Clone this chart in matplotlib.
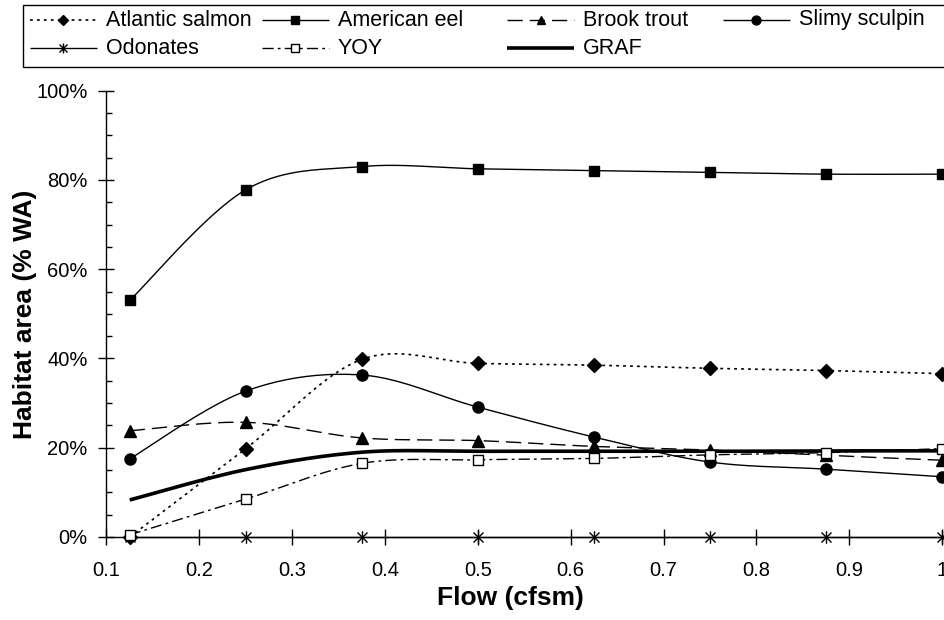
import numpy as np
import matplotlib
matplotlib.use("Agg")
import matplotlib.pyplot as plt
from matplotlib.lines import Line2D
from matplotlib.patches import Rectangle
from matplotlib.path import Path
from matplotlib.ticker import MultipleLocator, PercentFormatter, FuncFormatter

plt.rcParams['font.family'] = ['Liberation Sans', 'DejaVu Sans']
plt.rcParams['lines.scale_dashes'] = False

# Habitat area (% of wetted area) at each flow
flow = [0.125, 0.25, 0.375, 0.5, 0.625, 0.75, 0.875, 1.0]
atlantic_salmon = [0.0, 19.8, 39.8, 38.9, 38.5, 37.8, 37.3, 36.6]
american_eel = [53.0, 77.8, 83.0, 82.5, 82.1, 81.7, 81.3, 81.3]
brook_trout = [23.8, 25.7, 22.2, 21.6, 20.3, 19.5, 18.3, 17.2]
slimy_sculpin = [17.5, 32.7, 36.3, 29.1, 22.4, 16.8, 15.2, 13.5]
odonates = [0.0, 0.0, 0.0, 0.0, 0.0, 0.0, 0.0, 0.0]
yoy = [0.5, 8.5, 16.5, 17.3, 17.6, 18.4, 18.9, 19.8]
graf = [8.3, 15.1, 19.0, 19.2, 19.2, 19.2, 19.3, 19.3]

names = ["Atlantic salmon", "American eel", "Brook trout", "Slimy sculpin",
         "Odonates", "YOY", "GRAF"]

# asterisk: vertical bar plus an x
star = Path([(0, -1), (0, 1), (-0.8, -0.8), (0.8, 0.8), (-0.8, 0.8), (0.8, -0.8)],
            [Path.MOVETO, Path.LINETO, Path.MOVETO, Path.LINETO, Path.MOVETO, Path.LINETO])

styles = {
    "Atlantic salmon": dict(lw=1.2, dashes=(2, 3), marker="D", ms=7, mfc="black"),
    "American eel": dict(lw=1.0, dashes=None, marker="s", ms=7, mfc="black"),
    "Brook trout": dict(lw=1.0, dashes=(11, 5), marker="^", ms=8, mfc="black"),
    "Slimy sculpin": dict(lw=1.0, dashes=None, marker="o", ms=8, mfc="black"),
    "Odonates": dict(lw=1.0, dashes=None, marker=star, ms=9, mfc="black"),
    "YOY": dict(lw=1.0, dashes=(8, 3, 2, 3), marker="s", ms=6.5, mfc="white"),
    "GRAF": dict(lw=2.6, dashes=None, marker=None, ms=0, mfc="black"),
}
series = dict(zip(names, [atlantic_salmon, american_eel, brook_trout, slimy_sculpin,
                          odonates, yoy, graf]))


def smooth(x, y, n=24):
    # Bezier smoothing through every point (control points from neighbours)
    x = np.asarray(x, float)
    y = np.asarray(y, float)
    px = np.concatenate([[x[0]], x, [x[-1]]])
    py = np.concatenate([[y[0]], y, [y[-1]]])
    t = np.linspace(0, 1, n)[:, None]
    out = []
    for i in range(len(x) - 1):
        p0 = np.array([px[i], py[i]])
        p1 = np.array([px[i + 1], py[i + 1]])
        p2 = np.array([px[i + 2], py[i + 2]])
        p3 = np.array([px[i + 3], py[i + 3]])
        c1 = p1 + (p2 - p0) / 6
        c2 = p2 - (p3 - p1) / 6
        seg = ((1 - t) ** 3) * p1 + 3 * ((1 - t) ** 2) * t * c1 + 3 * (1 - t) * t ** 2 * c2 + t ** 3 * p2
        out.append(seg if i == 0 else seg[1:])
    out = np.vstack(out)
    return out[:, 0], out[:, 1]


W, H = 945, 620
fig = plt.figure(figsize=(W / 100, H / 100), dpi=100)
ax_w = 942 - 106.5
ax_h = 537 - 90.7
ax = fig.add_axes([106.5 / W, (H - 537) / H, ax_w / W, ax_h / H])

for name in names:
    st = styles[name]
    sx, sy = smooth(flow, series[name])
    line, = ax.plot(sx, sy, color="black", lw=st["lw"], solid_capstyle="butt",
                    clip_on=False, zorder=3)
    if st["dashes"]:
        line.set_dashes(st["dashes"])
    if st["marker"] is not None:
        ax.plot(flow, series[name], ls="none", marker=st["marker"], ms=st["ms"],
                mfc=st["mfc"], mec="black", mew=1.0, clip_on=False, zorder=4)

ax.set_xlim(0.1, 1.0)
ax.set_ylim(0, 100)
ax.xaxis.set_major_locator(MultipleLocator(0.1))
ax.xaxis.set_major_formatter(FuncFormatter(lambda v, p: f"{v:g}"))
ax.yaxis.set_major_locator(MultipleLocator(20))
ax.yaxis.set_minor_locator(MultipleLocator(5))
ax.yaxis.set_major_formatter(PercentFormatter(xmax=100, decimals=0))

for s in ["top", "right"]:
    ax.spines[s].set_visible(False)
for s in ["left", "bottom"]:
    ax.spines[s].set_linewidth(1.0)

ax.tick_params(axis="both", which="major", direction="inout", length=11, width=1.0,
               labelsize=14.5)
ax.tick_params(axis="y", which="minor", direction="in", length=4, width=1.0)
ax.tick_params(axis="x", which="major", pad=12)
ax.tick_params(axis="y", which="major", pad=8)

ax.set_xlabel("Flow (cfsm)", fontsize=19, fontweight="bold")
ax.xaxis.set_label_coords((510 - 106.5) / ax_w, -(586 - 537) / ax_h)
ax.set_ylabel("Habitat area (% WA)", fontsize=19, fontweight="bold")
ax.yaxis.set_label_coords(-(106.5 - 37) / ax_w, 0.5)

# legend box across the top
fig.add_artist(Rectangle((22.7 / W, 1 - 67.3 / H), (W + 10 - 22.7) / W, (67.3 - 4.7) / H,
                         transform=fig.transFigure, fill=False, ec="black", lw=1.0))
col_x = [30, 262, 507, 723]
row_y = [20, 48]
handle_len = 67
for k, name in enumerate(names):
    st = styles[name]
    x0 = col_x[k % 4]
    y0 = 1 - row_y[k // 4] / H
    xs = np.array([x0, x0 + handle_len / 2, x0 + handle_len]) / W
    h = Line2D(xs, [y0] * 3, transform=fig.transFigure, color="black", lw=st["lw"],
               solid_capstyle="butt")
    if st["dashes"]:
        h.set_dashes(st["dashes"])
    fig.add_artist(h)
    if st["marker"] is not None:
        fig.add_artist(Line2D([xs[1]], [y0], transform=fig.transFigure, ls="none",
                              marker=st["marker"], ms=st["ms"] * 0.8, mfc=st["mfc"],
                              mec="black", mew=1.0))
    fig.text((x0 + handle_len + 9) / W, y0, name, fontsize=15.5, va="center", ha="left")

fig.savefig("out.png", dpi=100)
